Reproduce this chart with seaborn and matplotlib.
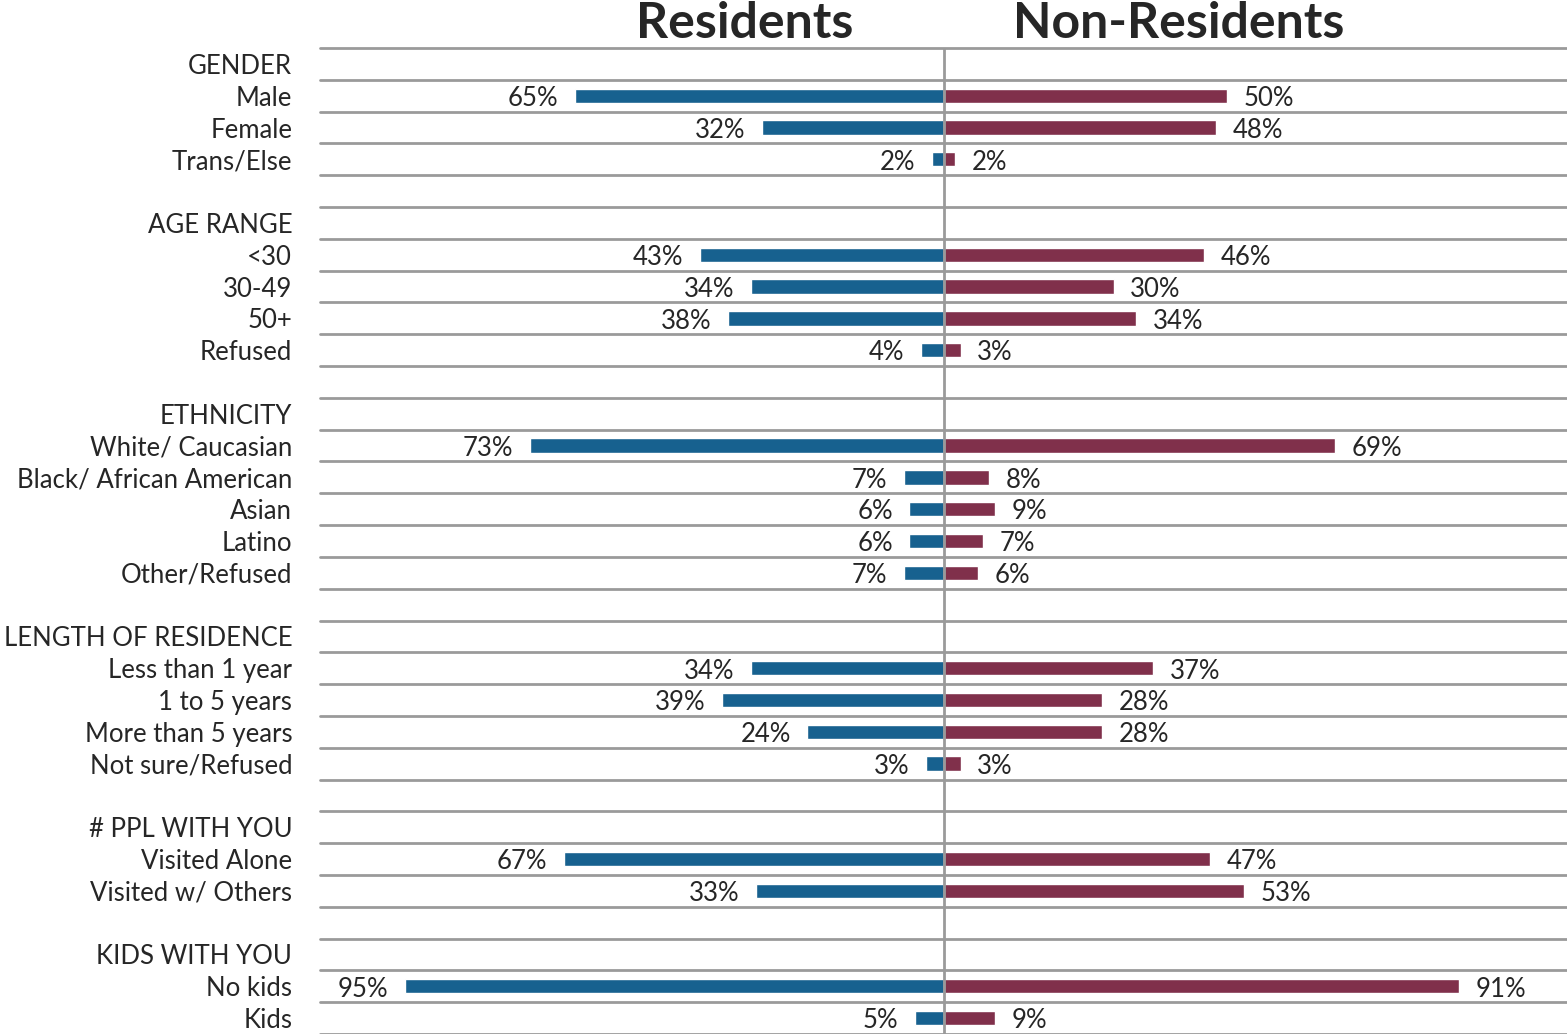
import numpy as np
import pandas as pd
import seaborn as sns
from matplotlib import pyplot as plt

# row labels, top to bottom (blank strings are spacer rows)
categories = ['GENDER', 'Male', 'Female', 'Trans/Else', '',
              'AGE RANGE', '<30', '30-49', '50+', 'Refused', '',
              'ETHNICITY', 'White/ Caucasian', 'Black/ African American', 'Asian', 'Latino', 'Other/Refused', '',
              'LENGTH OF RESIDENCE', 'Less than 1 year', '1 to 5 years', 'More than 5 years', 'Not sure/Refused', '',
              '# PPL WITH YOU', 'Visited Alone', 'Visited w/ Others', '',
              'KIDS WITH YOU', 'No kids', 'Kids']
residents = [None, 65, 32, 2, None,
             None, 43, 34, 38, 4, None,
             None, 73, 7, 6, 6, 7, None,
             None, 34, 39, 24, 3, None,
             None, 67, 33, None,
             None, 95, 5]
non_residents = [None, 50, 48, 2, None,
                 None, 46, 30, 34, 3, None,
                 None, 69, 8, 9, 7, 6, None,
                 None, 37, 28, 28, 3, None,
                 None, 47, 53, None,
                 None, 91, 9]

blue = '#17618F'
maroon = '#80304B'
grid_col = '#9A9A9A'

rows = []
for i, (r, n) in enumerate(zip(residents, non_residents)):
    if r is not None:
        rows.append({'pos': i + 0.5, 'group': 'Residents', 'value': r, 'signed': -r})
    if n is not None:
        rows.append({'pos': i + 0.5, 'group': 'Non-Residents', 'value': n, 'signed': n})
df = pd.DataFrame(rows)

sns.set_style('white')
plt.rcParams['font.family'] = ['Lato', 'DejaVu Sans']

fig = plt.figure(figsize=(15.67, 10.34), dpi=100)
ax = fig.add_axes([320 / 1567, 0.0, 1 - 320 / 1567, 1 - 48 / 1034])

sns.barplot(data=df, x='signed', y='pos', hue='group', orient='h', native_scale=True,
            palette={'Residents': blue, 'Non-Residents': maroon}, dodge=False,
            width=0.45, errorbar=None, legend=False, saturation=1, ax=ax, zorder=2)

n_rows = len(categories)
ax.set_xlim(-110, 110)
ax.set_ylim(n_rows, 0)

for k in range(n_rows + 1):
    ax.axhline(k, color=grid_col, lw=2, zorder=1, clip_on=False)
ax.axvline(0, color=grid_col, lw=2, zorder=3)

# value labels
for _, row in df.iterrows():
    if row['signed'] < 0:
        ax.annotate(f"{row['value']:.0f}%", (row['signed'], row['pos']), xytext=(-12, -2),
                    textcoords='offset points', ha='right', va='center', fontsize=18.5)
    else:
        ax.annotate(f"{row['value']:.0f}%", (row['signed'], row['pos']), xytext=(12, -2),
                    textcoords='offset points', ha='left', va='center', fontsize=18.5)

ax.set_yticks([i + 0.5 for i in range(n_rows)])
ax.set_yticklabels(categories, fontsize=18.5)
ax.tick_params(axis='y', length=0, pad=20)
ax.set_xticks([])
ax.set_xlabel('')
ax.set_ylabel('')
for s in ax.spines.values():
    s.set_visible(False)

ax.text(-35, -0.31, 'Residents', ha='center', va='baseline', fontsize=36,
        fontweight='bold', clip_on=False)
ax.text(41.5, -0.31, 'Non-Residents', ha='center', va='baseline', fontsize=36,
        fontweight='bold', clip_on=False)

fig.savefig('out.png', dpi=100)
